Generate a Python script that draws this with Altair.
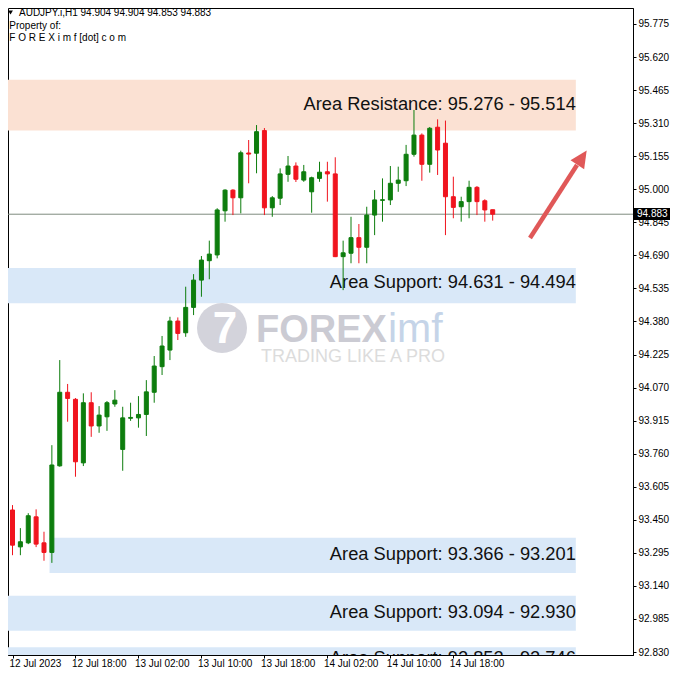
import json
import altair as alt
import pandas as pd

# ---------------- data ----------------
# hourly bars starting 12 Jul 2023 10:00 (bar index = hours since then)
opens = [93.496, 93.323, 93.342, 93.464, 93.342, 93.297, 93.703, 94.048, 94.015, 93.717,
         93.999, 93.890, 93.933, 93.993, 93.780, 93.926, 93.928, 93.944, 94.048, 94.168,
         94.246, 94.382, 94.327, 94.446, 94.574, 94.665, 94.692, 94.899, 94.996, 94.960,
         95.170, 95.169, 95.275, 94.913, 94.958, 95.070, 95.109, 95.043, 94.988, 95.051,
         95.082, 95.072, 94.684, 94.700, 94.773, 94.728, 94.879, 94.948, 94.950, 95.028,
         95.040, 95.164, 95.254, 95.117, 95.291, 95.216, 94.965, 94.918, 94.942, 95.009,
         94.946, 94.904]
highs = [93.519, 93.411, 93.481, 93.499, 93.394, 93.800, 94.199, 94.087, 94.021, 94.043,
         94.048, 93.983, 94.007, 94.058, 93.980, 93.999, 94.030, 94.105, 94.218, 94.312,
         94.402, 94.399, 94.543, 94.602, 94.687, 94.759, 94.911, 95.000, 95.000, 95.181,
         95.231, 95.301, 95.287, 94.968, 95.098, 95.156, 95.126, 95.114, 95.059, 95.129,
         95.129, 95.150, 94.759, 94.871, 94.837, 94.918, 94.996, 95.051, 95.109, 95.106,
         95.208, 95.372, 95.262, 95.292, 95.328, 95.322, 95.059, 94.965, 95.040, 95.015,
         94.953, 94.904]
lows = [93.284, 93.284, 93.336, 93.322, 93.258, 93.248, 93.699, 93.910, 93.652, 93.702,
        93.839, 93.858, 93.867, 93.980, 93.680, 93.914, 93.882, 93.843, 93.999, 94.129,
        94.199, 94.293, 94.308, 94.410, 94.496, 94.578, 94.676, 94.848, 94.879, 94.887,
        95.028, 95.075, 94.879, 94.871, 94.926, 95.035, 95.034, 95.035, 94.890, 95.035,
        94.942, 94.682, 94.527, 94.653, 94.653, 94.653, 94.785, 94.848, 94.926, 94.988,
        95.015, 95.153, 95.040, 95.078, 95.067, 94.785, 94.864, 94.848, 94.864, 94.879,
        94.848, 94.853]
closes = [93.331, 93.347, 93.469, 93.336, 93.297, 93.707, 94.048, 94.019, 93.722, 93.999,
          93.890, 93.941, 93.999, 94.011, 93.928, 93.930, 93.944, 94.050, 94.171, 94.265,
          94.382, 94.324, 94.446, 94.574, 94.668, 94.696, 94.903, 94.996, 94.960, 95.171,
          95.165, 95.270, 94.913, 94.960, 95.072, 95.109, 95.047, 95.082, 95.054, 95.080,
          95.072, 94.684, 94.702, 94.773, 94.728, 94.879, 94.950, 94.951, 95.028, 95.043,
          95.164, 95.254, 95.117, 95.286, 95.184, 94.965, 94.915, 94.942, 95.009, 94.942,
          94.903, 94.883]

last_price = 94.883
header_text = "AUDJPY.i,H1  94.904 94.904 94.853 94.883"

y_tick_values = [95.775, 95.620, 95.465, 95.310, 95.155, 95.000, 94.845, 94.690, 94.535, 94.380,
                 94.225, 94.070, 93.915, 93.760, 93.605, 93.450, 93.295, 93.140, 92.985, 92.830]
x_tick_hours = [0.07, 8, 16, 24, 32, 40, 48, 56]
x_tick_labels = ["12 Jul 2023", "12 Jul 18:00", "13 Jul 02:00", "13 Jul 10:00",
                 "13 Jul 18:00", "14 Jul 02:00", "14 Jul 10:00", "14 Jul 18:00"]

zone_kind = ["resistance", "support", "support", "support", "support"]
zone_top = [95.514, 94.631, 93.366, 93.094, 92.852]
zone_bottom = [95.276, 94.466, 93.201, 92.930, 92.746]
zone_label_hi = [95.514, 94.631, 93.366, 93.094, 92.852]
zone_label_lo = [95.276, 94.494, 93.201, 92.930, 92.746]
zone_text = ["Area Resistance: 95.276 - 95.514", "Area Support: 94.631 - 94.494",
             "Area Support: 93.366 - 93.201", "Area Support: 93.094 - 92.930",
             "Area Support: 92.852 - 92.746"]
zone_start = [-2, -2, 4.7, -2, -2]
zone_end = [71.56, 71.56, 71.56, 71.56, 71.56]

# ---------------- tables ----------------
bars = pd.DataFrame({"h": list(range(len(opens))), "open": opens, "high": highs,
                     "low": lows, "close": closes})
bars["dir"] = ["up" if c >= o else "down" for o, c in zip(opens, closes)]

zones = pd.DataFrame({"kind": zone_kind, "top": zone_top, "bottom": zone_bottom,
                      "start": zone_start, "end": zone_end, "text": zone_text,
                      "mid": [(a + b) / 2 for a, b in zip(zone_label_hi, zone_label_lo)]})

price_df = pd.DataFrame({"price": [last_price], "label": [f"{last_price:.3f}"]})
price_df["hi"] = price_df["price"] + 0.029
price_df["lo"] = price_df["price"] - 0.027

one = pd.DataFrame({"k": [0]})

# ---------------- scales / axes ----------------
FONT = "Liberation Sans"
GREEN = "#0d7d0d"
RED = "#f0141e"
W, H = 625, 647
RIGHT = 37

xscale = alt.Scale(domain=[0.0625, 0.0625 + W / 8], nice=False, zero=False)
yscale = alt.Scale(domain=[92.816, 95.850], nice=False, zero=False)

label_expr = f"{json.dumps(x_tick_labels)}[indexof({json.dumps(x_tick_hours)}, datum.value)]"
xaxis = alt.Axis(values=x_tick_hours, labelExpr=label_expr, title=None, orient="bottom",
                 labelAlign="left", labelPadding=0, labelOffset=-4, tickSize=3, tickColor="#000",
                 domainColor="#000", labelColor="#000", labelFont=FONT, labelFontSize=10,
                 grid=False, labelOverlap=False, labelFlush=False, labelBound=False)
yaxis = alt.Axis(values=y_tick_values, format=".3f", title=None, orient="right",
                 tickSize=3, tickColor="#000", labelPadding=2, domainColor="#000",
                 labelColor="#000", labelFont=FONT, labelFontSize=10, grid=False,
                 labelOverlap=False, labelFlush=False, labelBound=False)


def X(f):
    return alt.X(f"{f}:Q", scale=xscale, axis=xaxis)


def Y(f):
    return alt.Y(f"{f}:Q", scale=yscale, axis=yaxis)


dir_scale = alt.Scale(domain=["up", "down"], range=[GREEN, RED])

# ---------------- layers ----------------
res_zone = alt.Chart(zones).transform_filter("datum.kind == 'resistance'").mark_rect(
    color="#fbe1d3", clip=True).encode(x=X("start"), x2="end", y=Y("top"), y2="bottom")
sup_zone = alt.Chart(zones).transform_filter("datum.kind == 'support'").mark_rect(
    color="#d9e8f8", clip=True).encode(x=X("start"), x2="end", y=Y("top"), y2="bottom")

wm_circle = alt.Chart(one).mark_point(shape="circle", filled=True, size=2500,
                                      color="#d3d3db", opacity=1).encode(
    x=alt.value(214), y=alt.value(320))
wm_mark = alt.Chart(one).mark_text(font=FONT, fontSize=44, fontWeight="bold", color="white",
                                   align="center", baseline="middle").encode(
    x=alt.value(217), y=alt.value(322), text=alt.value("7"))
wm_forex = alt.Chart(one).mark_text(font=FONT, fontSize=38, fontWeight="bold", color="#cbcbd3",
                                    align="left", baseline="middle").encode(
    x=alt.value(248), y=alt.value(323), text=alt.value("FOREX"))
wm_imf = alt.Chart(one).mark_text(font=FONT, fontSize=41, color="#c5d4e8",
                                  align="left", baseline="middle").encode(
    x=alt.value(380), y=alt.value(322), text=alt.value("imf"))
wm_tag = alt.Chart(one).mark_text(font=FONT, fontSize=18, color="#dcdcdc",
                                  align="left", baseline="middle").encode(
    x=alt.value(253), y=alt.value(349), text=alt.value("TRADING LIKE A PRO"))

zone_labels = alt.Chart(zones).mark_text(font=FONT, fontSize=18.3, color="#111",
                                         align="right", baseline="middle", clip=True).encode(
    x=X("end"), y=Y("mid"), text="text:N")

price_line = alt.Chart(price_df).mark_rule(color="#7f8c7f", strokeWidth=1).encode(y=Y("price"))

wicks = alt.Chart(bars).mark_rule(strokeWidth=1, clip=True).encode(
    x=X("h"), y=Y("low"), y2="high",
    color=alt.Color("dir:N", scale=dir_scale, legend=None))
bodies = alt.Chart(bars).mark_bar(size=4, strokeWidth=1, opacity=1, clip=True).encode(
    x=X("h"), y=Y("open"), y2="close",
    color=alt.Color("dir:N", scale=dir_scale, legend=None),
    stroke=alt.Stroke("dir:N", scale=dir_scale, legend=None))

ARROW = "#e05858"
shaft = alt.Chart(one).mark_rule(color=ARROW, strokeWidth=4.5).encode(
    x=alt.value(522), y=alt.value(230), x2=alt.value(569), y2=alt.value(157))
head = alt.Chart(one).mark_point(shape="M0,-1L0.96,1L-0.96,1Z", filled=True, size=289,
                                 angle=33.4, color=ARROW, opacity=1).encode(
    x=alt.value(574), y=alt.value(149.6))

hdr_tri = alt.Chart(one).mark_point(shape="triangle-down", filled=True, size=24,
                                    color="#000", opacity=1).encode(
    x=alt.value(2.5), y=alt.value(4.5))
hdr1 = alt.Chart(one).mark_text(font=FONT, fontSize=10, color="#000", align="left",
                                baseline="middle").encode(
    x=alt.value(11), y=alt.value(5), text=alt.value(header_text))
hdr2 = alt.Chart(one).mark_text(font=FONT, fontSize=10, color="#000", align="left",
                                baseline="middle").encode(
    x=alt.value(1.3), y=alt.value(17.5), text=alt.value("Property of:"))
hdr3 = alt.Chart(one).mark_text(font=FONT, fontSize=10, color="#000", align="left",
                                baseline="middle").encode(
    x=alt.value(1.3), y=alt.value(29.5), text=alt.value("F O R E X i m f [dot] c o m"))

price_box = alt.Chart(price_df).mark_rect(color="#000").encode(
    x=alt.value(W + 1), x2=alt.value(W + RIGHT), y=Y("hi"), y2="lo")
price_text = alt.Chart(price_df).mark_text(font=FONT, fontSize=10, color="#fff",
                                           align="left", baseline="middle").encode(
    x=alt.value(W + 4), y=Y("price"), text="label:N")

chart = alt.layer(
    res_zone, sup_zone, wm_circle, wm_mark, wm_forex, wm_imf, wm_tag, zone_labels,
    price_line, wicks, bodies, shaft, head, hdr_tri, hdr1, hdr2, hdr3, price_box, price_text
).properties(
    width=W, height=H, background="white",
    autosize=alt.AutoSizeParams(type="none"),
    padding={"left": 0, "top": 0, "right": RIGHT, "bottom": 15},
).configure_view(stroke="#000", strokeWidth=1)

chart.save("out.html", embed_options={"renderer": "svg", "actions": False})
